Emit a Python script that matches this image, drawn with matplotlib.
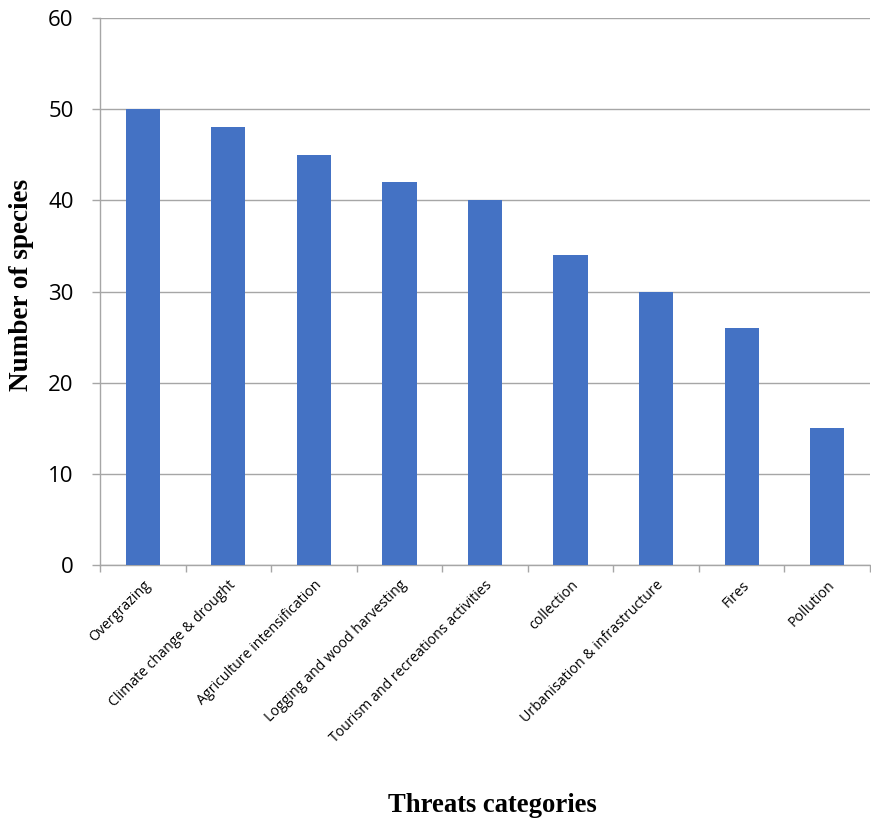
import matplotlib
matplotlib.use("Agg")
import matplotlib.pyplot as plt
from matplotlib.ticker import FixedLocator, NullFormatter

categories = [
    "Overgrazing",
    "Climate change & drought",
    "Agriculture intensification",
    "Logging and wood harvesting",
    "Tourism and recreations activities",
    "collection",
    "Urbanisation & infrastructure",
    "Fires",
    "Pollution",
]
species_counts = [50, 48, 45, 42, 40, 34, 30, 26, 15]
y_ticks = [0, 10, 20, 30, 40, 50, 60]

bar_color = "#4472C4"
grid_color = "#A6A6A6"

fig = plt.figure(figsize=(8.71, 8.22), dpi=100)
ax = fig.add_axes([100 / 871, 257 / 822, 770 / 871, 547 / 822])

x = list(range(len(categories)))
ax.bar(x, species_counts, width=0.4, color=bar_color, zorder=3)

ax.set_xlim(-0.5, len(categories) - 0.5)
ax.set_ylim(0, 60)

ax.set_yticks(y_ticks)
ax.set_yticklabels([str(v) for v in y_ticks], fontsize=16, family="Open Sans")
ax.tick_params(axis="y", length=6, width=1, color=grid_color, pad=13)
ax.grid(axis="y", color=grid_color, linewidth=1, zorder=0)

ax.set_xticks(x)
ax.set_xticklabels(categories, rotation=45, ha="right", va="top",
                   rotation_mode="anchor", fontsize=10.2, family="Open Sans")
ax.tick_params(axis="x", which="major", length=0, pad=9)
ax.xaxis.set_minor_locator(FixedLocator([i - 0.5 for i in range(len(categories) + 1)]))
ax.xaxis.set_minor_formatter(NullFormatter())
ax.tick_params(axis="x", which="minor", length=5, width=1, color=grid_color)

for side in ("top", "right"):
    ax.spines[side].set_visible(False)
for side in ("left", "bottom"):
    ax.spines[side].set_color(grid_color)
    ax.spines[side].set_linewidth(1)

fig.text(22 / 871, 1 - 285 / 822, "Number of species", rotation=90,
         ha="center", va="center", fontsize=19.5, fontweight="bold",
         family="Liberation Serif")
fig.text(492 / 871, 1 - 805 / 822, "Threats categories",
         ha="center", va="center", fontsize=19.2, fontweight="bold",
         family="Liberation Serif")

fig.savefig("out.png", dpi=100)
